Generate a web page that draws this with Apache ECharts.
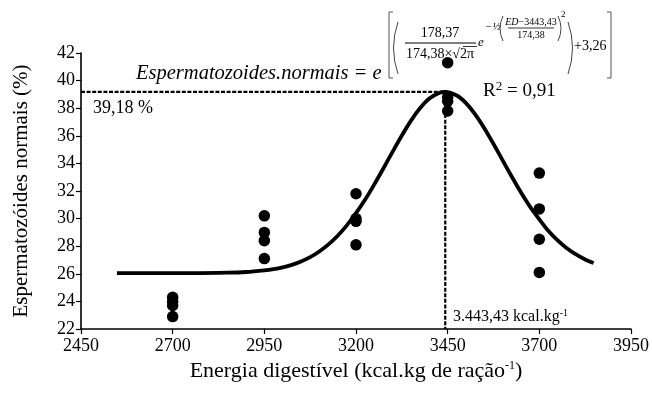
<!DOCTYPE html>
<html>
<head>
<meta charset="utf-8">
<script src="https://cdn.jsdelivr.net/npm/echarts@6/dist/echarts.min.js"></script>
<style>html,body{margin:0;padding:0;background:#fff}#c{width:652px;height:399px}</style>
</head>
<body>
<div id="c"></div>
<script>
const energyLevels = [2700, 2950, 3200, 3450, 3700];
const obsAt2700 = [24.3, 24.0, 23.7, 22.9];
const obsAt2950 = [30.2, 29.0, 28.4, 27.1];
const obsAt3200 = [31.8, 30.0, 29.8, 28.1];
const obsAt3450 = [41.3, 38.8, 38.5, 37.8];
const obsAt3700 = [33.3, 30.7, 28.5, 26.1];

// Fitted curve
const curveX = [2548, 2650, 2750, 2850, 2900, 2950, 2975, 3000, 3025, 3050, 3075, 3100, 3125, 3150, 3175, 3200, 3225, 3250, 3275, 3300, 3325, 3350, 3375, 3400, 3425, 3443.43, 3475, 3500, 3525, 3550, 3575, 3600, 3625, 3650, 3675, 3700, 3725, 3750, 3775, 3800, 3825, 3848];
const curveY = [26.05, 26.05, 26.05, 26.08, 26.13, 26.25, 26.34, 26.47, 26.65, 26.9, 27.21, 27.62, 28.13, 28.76, 29.51, 30.39, 31.38, 32.48, 33.65, 34.85, 36.02, 37.1, 38.01, 38.7, 39.09, 39.18, 38.92, 38.37, 37.56, 36.55, 35.41, 34.22, 33.03, 31.89, 30.85, 29.95, 29.1, 28.42, 27.85, 27.4, 27.04, 26.78];

// Optimum
const optimumX = 3443.43;
const optimumY = 39.18;

// Axis settings
const xMin = 2450, xMax = 3950, xStep = 250;
const yMin = 22, yMax = 42, yStep = 2;

const FONT = '"Liberation Serif", "Times New Roman", Times, serif';

const obsGroups = [obsAt2700, obsAt2950, obsAt3200, obsAt3450, obsAt3700];
const scatterData = [];
energyLevels.forEach((x, i) => obsGroups[i].forEach(v => scatterData.push([x, v])));
const curveData = curveX.map((x, i) => [x, curveY[i]]);
const guideData = [[xMin, optimumY], [optimumX, optimumY], [optimumX, yMin]];

function txt(x, y, text, size, o) {
  o = o || {};
  const font = (o.italic ? 'italic ' : '') + size + 'px ' + FONT;
  return {
    type: 'text', x: x, y: y, z: 100, silent: true,
    style: {
      text: text, font: font, fill: '#000',
      textAlign: o.align || 'left', align: o.align || 'left',
      textVerticalAlign: 'middle', verticalAlign: 'middle',
      rich: o.rich
    }
  };
}
function seg(x1, y1, x2, y2, w, col) {
  return { type: 'line', z: 100, silent: true, shape: { x1, y1, x2, y2 }, style: { stroke: col || '#000', lineWidth: w || 1 } };
}
function bracket(x, y1, y2, dir) {
  return { type: 'polyline', z: 100, silent: true,
    shape: { points: [[x + 4 * dir, y1], [x, y1], [x, y2], [x + 4 * dir, y2]] },
    style: { stroke: '#555', lineWidth: 1, fill: null } };
}
function paren(x, y1, y2, bulge) {
  const my = (y1 + y2) / 2;
  return { type: 'bezierCurve', z: 100, silent: true,
    shape: { x1: x, y1: y1, x2: x, y2: y2, cpx1: x + bulge, cpy1: my },
    style: { stroke: '#444', lineWidth: 1, fill: null } };
}

const formula = [
  txt(136, 74, 'Espermatozoides.normais = e', 20.5, { italic: true }),
  bracket(389, 12, 78, 1),
  paren(398, 22, 74, -9),
  txt(440, 33, '178,37', 14, { align: 'center' }),
  seg(405, 43, 476, 43, 1),
  txt(440, 54, '174,38×√2π', 14, { align: 'center' }),
  seg(463, 46.5, 477, 46.5, 0.8),
  txt(478, 43, 'e', 13, { italic: true }),
  txt(485, 27, '−½', 11, { italic: true }),
  paren(503, 16, 41, -6),
  txt(531, 22, '{i|ED}−3443,43', 10, { align: 'center', rich: { i: { fontStyle: 'italic', fontSize: 10, fontFamily: FONT } } }),
  seg(508, 28, 554, 28, 0.8),
  txt(531, 35, '174,38', 10, { align: 'center' }),
  paren(558, 16, 41, 6),
  txt(561, 15, '2', 9),
  paren(568, 22, 74, 9),
  txt(574, 46, '+3,26', 14),
  bracket(611, 12, 78, -1),
  txt(483, 91, 'R{s|2} = 0,91', 19, { rich: { s: { fontSize: 13, fontFamily: FONT, padding: [0, 0, 8, 0] } } }),
  txt(93, 108, '39,18 %', 18),
  txt(453, 317, '3.443,43 kcal.kg{s|-1}', 16, { rich: { s: { fontSize: 10, fontFamily: FONT, padding: [0, 0, 8, 0] } } })
];

const chart = echarts.init(document.getElementById('c'), null, { renderer: 'canvas' });
chart.setOption({
  animation: false,
  backgroundColor: '#fff',
  textStyle: { fontFamily: FONT, color: '#000' },
  grid: { left: 81, right: 19, top: 53, bottom: 70, containLabel: false },
  xAxis: {
    type: 'value', min: xMin, max: xMax, interval: xStep,
    axisLine: { show: true, onZero: false, lineStyle: { color: '#000', width: 1.6 } },
    axisTick: { show: true, inside: false, length: 5, lineStyle: { color: '#000', width: 1.2 } },
    axisLabel: { color: '#000', fontSize: 18, fontFamily: FONT, margin: 8, formatter: v => String(v) },
    splitLine: { show: false },
    name: 'Energia digestível (kcal.kg de ração{s|-1})',
    nameLocation: 'middle', nameGap: 30,
    nameTextStyle: { color: '#000', fontSize: 22, fontFamily: FONT,
      rich: { s: { fontSize: 12, fontFamily: FONT, padding: [0, 0, 10, 0] } } }
  },
  yAxis: {
    type: 'value', min: yMin, max: yMax, interval: yStep,
    axisLine: { show: true, onZero: false, lineStyle: { color: '#000', width: 1.6 } },
    axisTick: { show: true, inside: false, length: 5, lineStyle: { color: '#000', width: 1.2 } },
    axisLabel: { color: '#000', fontSize: 18, fontFamily: FONT, margin: 6 },
    splitLine: { show: false },
    name: 'Espermatozóides normais (%)',
    nameLocation: 'middle', nameGap: 49,
    nameTextStyle: { color: '#000', fontSize: 21, fontFamily: FONT }
  },
  series: [
    {
      type: 'line', data: guideData, showSymbol: false, silent: true, z: 2,
      lineStyle: { color: '#000', width: 2.2, type: [4, 1.6] }
    },
    {
      type: 'line', data: curveData, smooth: 0.3, showSymbol: false, silent: true, z: 3,
      lineStyle: { color: '#000', width: 3.8 }
    },
    {
      type: 'scatter', data: scatterData, symbol: 'circle', symbolSize: 11.5, z: 4,
      itemStyle: { color: '#000', opacity: 1 }
    }
  ],
  graphic: formula
});
</script>
</body>
</html>
